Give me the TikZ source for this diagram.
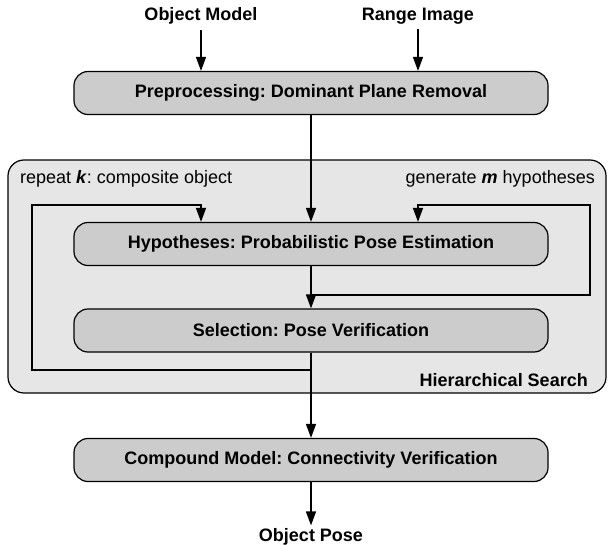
\documentclass[tikz,border=0pt]{standalone}
\usepackage{fontspec}
\setmainfont{Liberation Sans}
\usetikzlibrary{arrows.meta}
\definecolor{boxgray}{HTML}{CCCCCC}
\definecolor{contgray}{HTML}{E6E6E6}
\frenchspacing
\begin{document}
\begin{tikzpicture}[x=1pt,y=-1pt,
  box/.style={draw=black, line width=1.2pt, fill=boxgray, rounded corners=14pt,
    minimum width=474pt, minimum height=43pt, inner sep=0pt,
    font=\fontsize{18}{21}\selectfont\bfseries},
  container/.style={draw=black, line width=1.2pt, fill=contgray, rounded corners=16pt,
    minimum width=598pt, minimum height=233pt, inner sep=0pt},
  lbl/.style={inner sep=0pt, font=\fontsize{18}{21}\selectfont\bfseries},
  note/.style={inner sep=0pt, font=\fontsize{18}{21}\selectfont},
  arr/.style={line width=1.4pt, -{Triangle[length=14pt,width=10pt]}},
]
\useasboundingbox (0,0) rectangle (608,546);
\node[container] (hs) at (307,276.5) {};
\node[box] (pre) at (311,93) {Preprocessing: Dominant Plane Removal};
\node[box] (hyp) at (311,244) {Hypotheses: Probabilistic Pose Estimation};
\node[box] (sel) at (311,330.5) {Selection: Pose Verification};
\node[box] (comp) at (311,460) {Compound Model: Connectivity Verification};
\node[lbl] (om) at (201,16) {Object Model};
\node[lbl] (ri) at (418,16) {Range Image};
\node[lbl] (op) at (311,537) {Object Pose};
\node[note, anchor=west] (rk) at (20,179) {repeat \textbf{\textit{k}}: composite object};
\node[note, anchor=east] (gm) at (595,179) {generate \textbf{\textit{m}} hypotheses};
\node[lbl, anchor=east] (hl) at (588,380) {Hierarchical Search};
\coordinate (lb) at (311,370);
\coordinate (rb) at (311,295);
\draw[arr, shorten <=5pt] (om.south) -- (om |- pre.north);
\draw[arr, shorten <=5pt] (ri.south) -- (ri |- pre.north);
\draw[arr] (pre.south) -- (hyp.north);
\draw[arr] (hyp.south) -- (sel.north);
\draw[arr] (sel.south) -- (comp.north);
\draw[arr, shorten >=3pt] (comp.south) -- (op.north);
\draw[arr] (lb) -| (32,205) -| (om |- hyp.north);
\draw[arr] (rb) -| (590,205) -| (ri |- hyp.north);
\end{tikzpicture}
\end{document}
